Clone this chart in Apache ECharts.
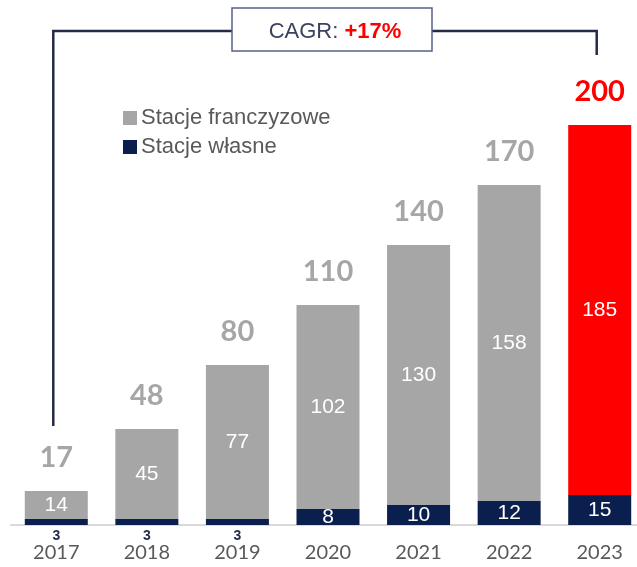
<!DOCTYPE html>
<html>
<head>
<meta charset="utf-8">
<script src="https://cdn.jsdelivr.net/npm/echarts@6/dist/echarts.min.js"></script>
<style>
  html, body { margin: 0; padding: 0; background: #fff; }
  #chart { width: 637px; height: 567px; }
</style>
</head>
<body>
<div id="chart"></div>
<script>
// data
const years = ["2017", "2018", "2019", "2020", "2021", "2022", "2023"];
const ownStations = [3, 3, 3, 8, 10, 12, 15];
const franchiseStations = [14, 45, 77, 102, 130, 158, 185];
const totals = [17, 48, 80, 110, 140, 170, 200];
const cagrText = "+17%";

const NAVY = "#0b1f4e";
const GRAY = "#a6a6a6";
const RED = "#ff0000";

const chart = echarts.init(document.getElementById("chart"));

const lastIdx = years.length - 1;

const insideLabel = {
  show: true,
  position: "inside",
  color: "#fff",
  fontFamily: "Liberation Sans",
  fontSize: 21
};

const option = {
  animation: false,
  grid: { left: 11, width: 634, top: 125, bottom: 42, containLabel: false, outerBoundsMode: "none" },
  legend: {
    orient: "vertical",
    left: 118,
    top: 102,
    itemWidth: 14,
    itemHeight: 14,
    itemGap: 7,
    icon: "rect",
    textStyle: { fontFamily: "Liberation Sans", fontSize: 22, color: "#595959", padding: [0, 0, 0, -1] },
    data: ["Stacje franczyzowe", "Stacje własne"]
  },
  xAxis: {
    type: "category",
    data: years,
    axisLine: { lineStyle: { color: "#d9d9d9", width: 2 } },
    axisTick: { show: false },
    axisLabel: { margin: 18, fontFamily: "Lato", fontSize: 20, color: "#595959" }
  },
  yAxis: {
    type: "value",
    min: 0,
    max: 200,
    show: false,
    splitLine: { show: false }
  },
  series: [
    {
      name: "Stacje własne",
      type: "bar",
      stack: "all",
      barWidth: 63,
      itemStyle: { color: NAVY },
      data: ownStations.map((v) => {
        if (v <= 3) {
          return {
            value: v,
            label: {
              show: true,
              position: "bottom",
              distance: 4,
              color: "#1f2b4a",
              fontFamily: "Liberation Sans",
              fontWeight: "bold",
              fontSize: 14
            }
          };
        }
        return v;
      }),
      label: insideLabel
    },
    {
      name: "Stacje franczyzowe",
      type: "bar",
      stack: "all",
      barWidth: 63,
      itemStyle: { color: GRAY },
      data: franchiseStations.map((v, i) =>
        i === lastIdx ? { value: v, itemStyle: { color: RED } } : v
      ),
      label: insideLabel
    },
    {
      // totals drawn on top of the stack
      name: "total",
      type: "bar",
      stack: "all",
      barWidth: 63,
      silent: true,
      itemStyle: { color: "transparent" },
      data: totals.map((t, i) => ({
        value: 0,
        label: {
          show: true,
          position: "top",
          distance: 19,
          formatter: String(t),
          fontFamily: "Lato",
          fontWeight: "bold",
          fontSize: 29,
          color: i === lastIdx ? RED : GRAY
        }
      }))
    }
  ]
};

chart.setOption(option);

// CAGR bracket, anchored to the first and last bars
const p0 = chart.convertToPixel({ gridIndex: 0 }, [0, totals[0]]);
const pN = chart.convertToPixel({ gridIndex: 0 }, [lastIdx, totals[lastIdx]]);
const xL = p0[0] - 3;
const xR = pN[0] - 3;
const yLine = 31;
const boxL = 232, boxR = 432, boxT = 8, boxB = 51;

chart.setOption({
  graphic: [
    {
      type: "polyline",
      shape: { points: [[xL, p0[1] - 65], [xL, yLine], [boxL, yLine]] },
      style: { stroke: "#262b45", lineWidth: 2.5, fill: null }
    },
    {
      type: "polyline",
      shape: { points: [[boxR, yLine], [xR, yLine], [xR, pN[1] - 70]] },
      style: { stroke: "#262b45", lineWidth: 2.5, fill: null }
    },
    {
      type: "rect",
      shape: { x: boxL, y: boxT, width: boxR - boxL, height: boxB - boxT },
      style: { fill: "#fff", stroke: "#5b608a", lineWidth: 1.5 }
    },
    {
      type: "text",
      x: (boxL + boxR) / 2 + 3,
      y: (boxT + boxB) / 2 + 2,
      style: {
        text: "{a|CAGR: }{b|" + cagrText + "}",
        align: "center",
        verticalAlign: "middle",
        rich: {
          a: { fontFamily: "Liberation Sans", fontSize: 22, fill: "#3d4160" },
          b: { fontFamily: "Liberation Sans", fontSize: 22, fontWeight: "bold", fill: RED }
        }
      }
    }
  ]
});
</script>
</body>
</html>
